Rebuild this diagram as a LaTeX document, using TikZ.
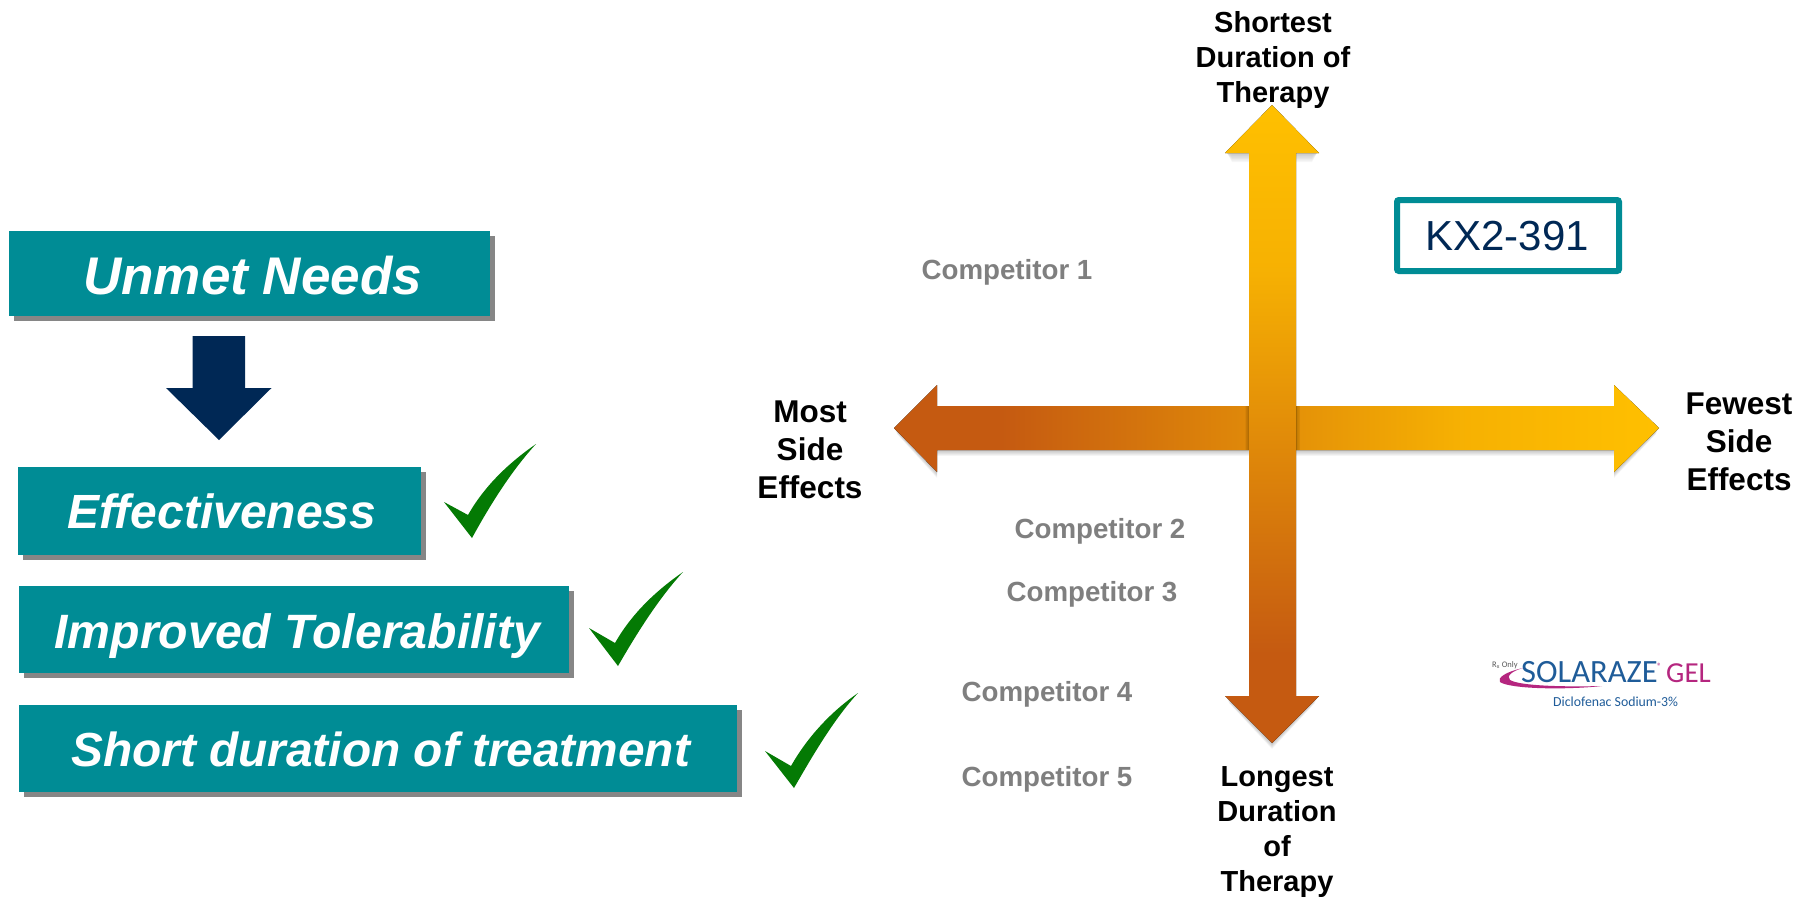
\documentclass[tikz,border=0pt]{standalone}
\usepackage{fontspec}
\setmainfont{Liberation Sans}
\newfontfamily\logofont{Carlito}
\usetikzlibrary{shadows}
\definecolor{tealbox}{HTML}{008C95}
\definecolor{navyarrow}{HTML}{002855}
\definecolor{shadowgrey}{HTML}{868686}
\definecolor{checkgreen}{HTML}{047A04}
\definecolor{gradlight}{HTML}{FFC000}
\definecolor{graddark}{HTML}{C55A11}
\definecolor{compgrey}{HTML}{7F7F7F}
\definecolor{logoblue}{HTML}{1F5C99}
\definecolor{logopink}{HTML}{B5267F}
\pgfdeclarehorizontalshading{hgrad}{100bp}{color(0bp)=(graddark); color(25bp)=(graddark); color(32bp)=(graddark); color(62bp)=(gradlight!85!graddark); color(75bp)=(gradlight); color(100bp)=(gradlight)}
\pgfdeclareverticalshading{vgrad}{100bp}{color(0bp)=(graddark); color(25bp)=(graddark); color(32bp)=(graddark); color(62bp)=(gradlight!85!graddark); color(75bp)=(gradlight); color(100bp)=(gradlight)}
\tikzset{
  need/.style={fill=tealbox, text=white, font=\bfseries\itshape, inner sep=0pt, anchor=north west, align=center,
    drop shadow={shadow xshift=5pt, shadow yshift=-5pt, fill=shadowgrey, opacity=1}},
  tick/.style={fill=checkgreen},
  axislabel/.style={font=\fontsize{29}{35}\selectfont\bfseries, align=center, text=black, inner sep=0pt},
  sidelabel/.style={font=\fontsize{31.5}{38}\selectfont\bfseries, align=center, text=black, inner sep=0pt},
  competitor/.style={font=\fontsize{27.7}{33}\selectfont\bfseries, text=compgrey, inner sep=0pt}
}
\begin{document}
\begin{tikzpicture}[x=1pt,y=-1pt]
\path[use as bounding box, fill=white] (0,0) rectangle (1812,898);
% needs
\node[need, minimum width=481pt, minimum height=85pt] (unmet) at (9,231) {\fontsize{53}{60}\selectfont\hspace*{6pt}\raisebox{-2pt}[\height][\depth]{Unmet Needs}};
\node[need, minimum width=403pt, minimum height=88pt] (eff) at (18,467) {\fontsize{48}{54}\selectfont\hspace*{4.6pt}Effectiveness};
\node[need, minimum width=550pt, minimum height=87pt] (imp) at (18.5,586) {\fontsize{48.2}{54}\selectfont\hspace*{7pt}\raisebox{-6pt}[\height][\depth]{Improved Tolerability}};
\node[need, minimum width=718pt, minimum height=87pt] (short) at (18.5,705) {\fontsize{47.8}{54}\selectfont\hspace*{6pt}\raisebox{-1pt}[\height][\depth]{Short duration of treatment}};
% down arrow
\fill[navyarrow] (192.5,336) -- (245,336) -- (245,388) -- (271.5,388) -- (219,440) -- (166,388) -- (192.5,388) -- cycle;
% ticks
\fill[tick] (444,502) -- (468,515) .. controls (485,485) and (510,462) .. (536,444) .. controls (512,470) and (490,505) .. (472,538) -- cycle;
\fill[tick] (589,628) -- (615,643) .. controls (632,613) and (657,590) .. (683,572) .. controls (659,598) and (637,633) .. (618,666) -- cycle;
\fill[tick] (765,751) -- (791,766) .. controls (808,736) and (832,711) .. (858,693) .. controls (834,719) and (813,755) .. (794,788) -- cycle;
% soft shadow of the horizontal arrow
\foreach \o in {1,2,3,4,5,6}{
  \fill[black, opacity=0.04] (894+\o*0.5,428+\o) -- (937,385+\o) -- (937,472+\o) -- cycle;
  \fill[black, opacity=0.04] (937,406+\o) rectangle (1614,450+\o);
  \fill[black, opacity=0.04] (1614,385+\o) -- (1659-\o*0.5,428+\o) -- (1614,472+\o) -- cycle;
}
\fill[shading=hgrad] (894,428) -- (937,385) -- (937,406) -- (1614,406) -- (1614,385) -- (1659,428) -- (1614,472) -- (1614,450) -- (937,450) -- (937,472) -- cycle;
% soft shadow of the vertical arrow
\foreach \o in {1,2,3,4,5,6}{
  \fill[black, opacity=0.035] (1249-\o*0.7,406) rectangle (1296+\o*0.7,450);
  \fill[black, opacity=0.035] (1227,153) -- (1317,153) -- (1312,153+\o*1.5) -- (1232,153+\o*1.5) -- cycle;
  \fill[black, opacity=0.04] (1226+\o*0.5,697+\o) -- (1318-\o*0.5,697+\o) -- (1272,743+\o) -- cycle;
}
\fill[shading=vgrad] (1272,105) -- (1319,153) -- (1296,153) -- (1296,696) -- (1319,696) -- (1272,743) -- (1225,696) -- (1249,696) -- (1249,153) -- (1225,153) -- cycle;
% axis labels
\node[axislabel] (shortest) at (1273,60) {Shortest\\Duration of\\Therapy};
\node[axislabel] (longest) at (1277,832) {Longest\\Duration\\of\\Therapy};
\node[sidelabel] (most) at (810,450) {Most\\Side\\Effects};
\node[sidelabel] (fewest) at (1739,442) {Fewest\\Side\\Effects};
% competitors
\node[competitor] (c1) at (1007,272) {Competitor 1};
\node[competitor] (c2) at (1100,531) {Competitor 2};
\node[competitor] (c3) at (1092,594) {Competitor 3};
\node[competitor] (c4) at (1047,694) {Competitor 4};
\node[competitor] (c5) at (1047,779) {Competitor 5};
% KX2-391
\node[draw=tealbox, line width=6pt, rounded corners=2pt, fill=white, minimum width=222pt, minimum height=71pt, inner sep=0pt] (kx) at (1508,235.5) {};
\node[text=navyarrow, inner sep=0pt, font=\fontsize{42}{50}\selectfont] (kxtext) at (1507,236) {KX2-391};
% logo
\node[inner sep=0pt, font=\logofont\fontsize{8.5}{10}\selectfont, text=black!65, anchor=west] (rx) at (1492,665.5) {R\textsubscript{x} Only};
\fill[logopink] (1523,668) .. controls (1505,672) and (1497,678) .. (1500,682) .. controls (1510,689) and (1565,690) .. (1602,686) .. controls (1565,687) and (1520,686) .. (1510,680) .. controls (1506,676) and (1512,671) .. (1523,668) -- cycle;
\node[inner sep=0pt, font=\logofont\fontsize{32.5}{34}\selectfont, text=logoblue, anchor=base west] (sol) at (1521,682) {SOLARAZE};
\node[inner sep=0pt, font=\logofont\fontsize{9}{10}\selectfont, text=logopink, anchor=base west] (reg) at (1657,669) {®};
\node[inner sep=0pt, font=\logofont\fontsize{29}{30}\selectfont, text=logopink, anchor=base west] (gel) at (1666,682) {GEL};
\node[inner sep=0pt, font=\logofont\fontsize{13.8}{18}\selectfont, text=logoblue, anchor=base west] (dic) at (1553,706) {Diclofenac Sodium-3\%};
\end{tikzpicture}
\end{document}
